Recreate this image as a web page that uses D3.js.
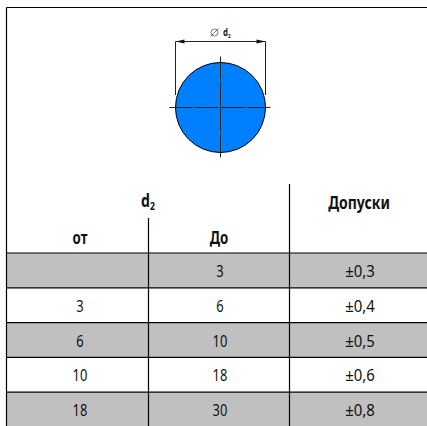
<!DOCTYPE html>
<html>
<head>
<meta charset="utf-8">
<script src="https://cdn.jsdelivr.net/npm/d3@7"></script>
<style>
  html, body { margin: 0; padding: 0; background: #fff; }
  svg { display: block; }
  text { font-family: "Noto Sans", "Open Sans", sans-serif; fill: #111; }
</style>
</head>
<body>
<script>
// table content
const fromValues = ["", "3", "6", "10", "18"];
const toValues = ["3", "6", "10", "18", "30"];
const tolerances = ["±0,3", "±0,4", "±0,5", "±0,6", "±0,8"];
const rowIndex = [0, 1, 2, 3, 4];

const width = 427, height = 426;
const svg = d3.select("body").append("svg")
    .attr("width", width)
    .attr("height", height);

const left = 6.5, right = 427, top_ = 7.5, bottom = 426;
const col1 = 148.5, col2 = 289.5;
const headerBottom = 253;

// Rows
const yScale = d3.scaleBand()
    .domain(rowIndex)
    .range([headerBottom, 427]);

svg.selectAll("rect.row")
    .data(rowIndex)
    .enter()
    .append("rect")
    .attr("class", "row")
    .attr("x", left)
    .attr("y", d => yScale(d))
    .attr("width", right - left)
    .attr("height", yScale.bandwidth())
    .attr("fill", d => d % 2 === 0 ? "#c0c0c0" : "#fff");

// Grid lines
const lines = [
    [left, top_, right, top_],
    [left, top_, left, bottom],
    [col1, 218, col1, bottom],
    [col2, 184, col2, bottom],
    [left, headerBottom, right, headerBottom]
];
rowIndex.slice(1).forEach(d => lines.push([left, yScale(d), right, yScale(d)]));

svg.selectAll("line.grid")
    .data(lines)
    .enter()
    .append("line")
    .attr("class", "grid")
    .attr("x1", d => d[0]).attr("y1", d => d[1])
    .attr("x2", d => d[2]).attr("y2", d => d[3])
    .attr("stroke", "#000")
    .attr("stroke-width", 1.2);

// condensed look: no narrow font installed, so squeeze horizontally
function squeezed(x, y, label, size, sx) {
    return svg.append("text")
        .attr("transform", `translate(${x},${y}) scale(${sx},1)`)
        .attr("text-anchor", "middle")
        .attr("font-size", size)
        .text(label);
}

// Cell text
const colCenters = [80, 220, 360];
[fromValues, toValues, tolerances].forEach((col, c) => {
    col.forEach((d, i) => {
        squeezed(colCenters[c], yScale(i) + yScale.bandwidth() / 2 + 6.5, d, 17, c === 2 ? 0.88 : 0.76);
    });
});

// Headers
const d2 = squeezed(148, 207, "d", 18, 0.78).attr("font-weight", "bold");
d2.append("tspan").attr("font-size", 11).attr("dy", 3).text("2");
squeezed(80, 244, "от", 18, 0.74).attr("font-weight", "bold");
squeezed(219, 244, "До", 18, 0.74).attr("font-weight", "bold");
squeezed(359, 209, "Допуски", 18, 0.78).attr("font-weight", "bold");

// Drawing
const cx = 220.5, cy = 107.5, r = 45;
svg.append("circle")
    .attr("cx", cx).attr("cy", cy).attr("r", r)
    .attr("fill", "#0080ff")
    .attr("stroke", "#000")
    .attr("stroke-width", 1);

// centre lines
const dash = "23,1,1,1";
svg.append("line")
    .attr("x1", cx - 51).attr("x2", cx + 51)
    .attr("y1", cy).attr("y2", cy)
    .attr("stroke", "#222").attr("stroke-dasharray", dash);
svg.append("line")
    .attr("x1", cx).attr("x2", cx)
    .attr("y1", cy - 51).attr("y2", cy + 51)
    .attr("stroke", "#222").attr("stroke-dasharray", dash);

// dimension lines
svg.append("path")
    .attr("d", `M${cx - r},95 V41.5 H${cx + r} V95`)
    .attr("fill", "none")
    .attr("stroke", "#222");
svg.append("path")
    .attr("d", `M${cx - r},41.5 l9,-2 v4 Z M${cx + r},41.5 l-9,-2 v4 Z`)
    .attr("fill", "#111");

// dimension label
svg.append("circle")
    .attr("cx", 214.5).attr("cy", 32.5).attr("r", 3.5)
    .attr("fill", "none").attr("stroke", "#444").attr("stroke-width", 0.7);
svg.append("line")
    .attr("x1", 210.5).attr("y1", 36.5).attr("x2", 218.5).attr("y2", 28.5)
    .attr("stroke", "#444").attr("stroke-width", 0.7);
const dim = svg.append("text")
    .attr("transform", "translate(223,36) scale(0.78,1)")
    .attr("font-size", 10)
    .attr("font-weight", "bold")
    .text("d");
dim.append("tspan").attr("font-size", 6).attr("dy", 2).text("2");
</script>
</body>
</html>
